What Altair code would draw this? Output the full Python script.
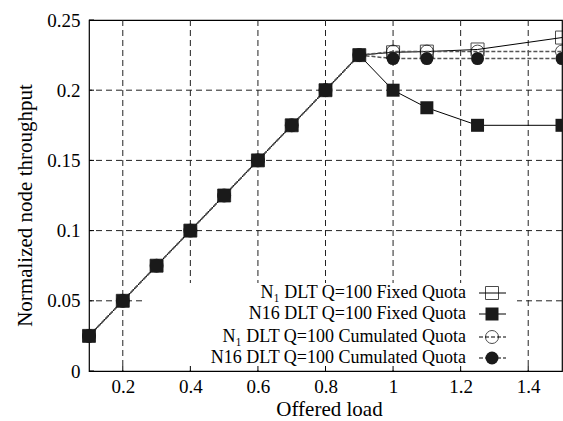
import altair as alt
import pandas as pd

# Offered load and normalized node throughput for each configuration
load = [0.1, 0.2, 0.3, 0.4, 0.5, 0.6, 0.7, 0.8, 0.9, 1.0, 1.1, 1.25, 1.5]
ramp = [0.025, 0.05, 0.075, 0.1, 0.125, 0.15, 0.175, 0.2, 0.225]
n1_fixed = ramp + [0.227, 0.2275, 0.229, 0.2375]
n16_fixed = ramp + [0.2, 0.1875, 0.175, 0.175]
n1_cumulated = ramp + [0.2275, 0.2275, 0.2275, 0.2275]
n16_cumulated = ramp + [0.2225, 0.2225, 0.2225, 0.2225]

series_names = [
    "N\u2081 DLT Q=100 Fixed Quota",
    "N16 DLT Q=100 Fixed Quota",
    "N\u2081 DLT Q=100 Cumulated Quota",
    "N16 DLT Q=100 Cumulated Quota",
]
series_values = [n1_fixed, n16_fixed, n1_cumulated, n16_cumulated]

x_ticks = [0.2, 0.4, 0.6, 0.8, 1.0, 1.2, 1.4]
y_ticks = [0, 0.05, 0.1, 0.15, 0.2, 0.25]
x_grid = [0.2, 0.4, 0.6, 0.8, 1.0, 1.2, 1.4]
y_grid = [0.05, 0.1, 0.15, 0.2]

W, H = 473, 351
FONT = "Liberation Serif"

frames = [pd.DataFrame({"load": load, "thr": v, "series": n})
          for n, v in zip(series_names, series_values)]

xs = alt.Scale(domain=[0.1, 1.5], nice=False, zero=False)
ys = alt.Scale(domain=[0, 0.25], nice=False)

x_enc = alt.X("load:Q", scale=xs, axis=alt.Axis(
    values=x_ticks, title="Offered load", grid=False,
    labelExpr="format(datum.value, '~g')", labelPadding=6,
    titlePadding=2, titleX=240))
y_enc = alt.Y("thr:Q", scale=ys, axis=alt.Axis(
    values=y_ticks, title="Normalized node throughput", grid=False,
    labelExpr="format(datum.value, '~g')", labelPadding=9,
    titlePadding=11, titleY=185))

dash = [6, 4]
vgrid = alt.Chart(pd.DataFrame({"load": x_grid})).mark_rule(
    color="#222", strokeWidth=1, strokeDash=dash).encode(x=x_enc)
hgrid = alt.Chart(pd.DataFrame({"thr": y_grid})).mark_rule(
    color="#222", strokeWidth=1, strokeDash=dash).encode(y=y_enc)

# short inward ticks on the bottom and left borders
bticks = alt.Chart(pd.DataFrame({"load": x_ticks})).mark_rule(
    color="black", strokeWidth=1).encode(
    x=x_enc, y=alt.value(H), y2=alt.value(H - 5))
lticks = alt.Chart(pd.DataFrame({"thr": y_ticks})).mark_rule(
    color="black", strokeWidth=1).encode(
    y=y_enc, x=alt.value(0), x2=alt.value(5))

# key box in the lower right of the plot
key_box = alt.Chart(pd.DataFrame({"k": [0]})).mark_rect(
    fill="white", stroke=None).encode(
    x=alt.value(56), x2=alt.value(428), y=alt.value(263), y2=alt.value(346))

line_styles = [
    dict(color="black", strokeWidth=1),
    dict(color="black", strokeWidth=1),
    dict(color="#555", strokeWidth=1.5, strokeDash=[4, 2]),
    dict(color="#555", strokeWidth=1.5, strokeDash=[4, 2]),
]
point_styles = [
    dict(shape="square", filled=False, stroke="black", strokeWidth=1, size=169),
    dict(shape="square", filled=True, fill="#1a1a1a", strokeWidth=0, size=169, opacity=1),
    dict(shape="circle", filled=False, stroke="black", strokeWidth=1, size=169),
    dict(shape="circle", filled=True, fill="#1a1a1a", strokeWidth=0, size=169, opacity=1),
]

lines = [alt.Chart(f).mark_line(**s).encode(x=x_enc, y=y_enc)
         for f, s in zip(frames, line_styles)]
points = [alt.Chart(f).mark_point(**s).encode(x=x_enc, y=y_enc)
          for f, s in zip(frames, point_styles)]
# drawing order: open squares, open circles, filled circles, filled squares
points = [points[0], points[2], points[3], points[1]]

key_rows = [273, 294, 317, 338]
key_layers = []
for name, row, ls, ps in zip(series_names, key_rows, line_styles, point_styles):
    d = pd.DataFrame({"label": [name]})
    key_layers.append(alt.Chart(d).mark_text(
        align="right", baseline="middle", font=FONT, fontSize=18,
        color="black").encode(
        text="label:N", x=alt.value(377), y=alt.value(row)))
    key_layers.append(alt.Chart(d).mark_rule(**ls).encode(
        x=alt.value(390), x2=alt.value(417), y=alt.value(row)))
    key_layers.append(alt.Chart(d).mark_point(**ps).encode(
        x=alt.value(403), y=alt.value(row)))

chart = alt.layer(
    vgrid, hgrid, key_box, bticks, lticks, *lines, *points, *key_layers
).properties(
    width=W, height=H,
    autosize=alt.AutoSizeParams(type="none"),
    padding={"left": 89, "top": 20, "right": 1, "bottom": 50},
).configure_view(
    stroke="black", strokeWidth=1.2
).configure_axis(
    domain=False, ticks=False,
    labelFont=FONT, labelFontSize=19, labelColor="black",
    titleFont=FONT, titleFontSize=21, titleFontWeight="normal",
    titleColor="black",
)

chart.save("out.html", embed_options={"renderer": "svg", "actions": False})
